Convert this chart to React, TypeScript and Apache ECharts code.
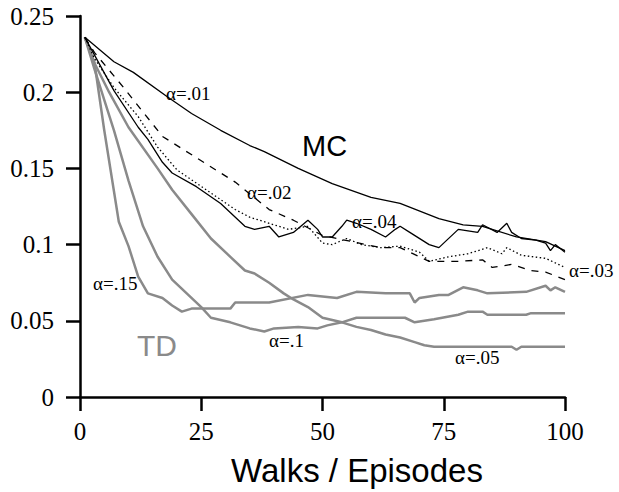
import React, { useEffect, useRef } from "react";
import * as echarts from "echarts";

type Pt = [number, number];

const xTicks = [0, 25, 50, 75, 100];
const yTicks = [0, 0.05, 0.1, 0.15, 0.2, 0.25];

const mc01: Pt[] = [[1,.236],[7,.220],[11,.213],[18,.197],[23,.186],[29,.175],[35,.165],[38,.161],[45,.150],[52,.140],[60,.131],[66,.127],[74,.117],[79,.113],[83,.112],[90,.105],[96,.102],[100,.096]];
const mc02: Pt[] = [[1,.236],[3,.226],[9,.203],[17,.171],[24,.157],[32,.141],[39,.123],[44,.116],[50,.106],[56,.102],[62,.098],[66,.098],[72,.089],[78,.089],[83,.090],[85,.085],[89,.087],[93,.083],[96,.082],[100,.077]];
const mc03: Pt[] = [[1,.236],[3,.222],[7,.203],[12,.184],[16,.164],[20,.149],[26,.136],[32,.123],[35,.118],[39,.114],[43,.110],[47,.112],[50,.101],[52,.100],[55,.104],[58,.100],[62,.098],[66,.099],[70,.095],[72,.089],[76,.092],[80,.094],[84,.098],[87,.094],[88,.098],[91,.093],[96,.091],[100,.085]];
const mc04: Pt[] = [[1,.236],[7,.201],[12,.177],[14,.169],[17,.154],[19,.147],[24,.138],[29,.127],[34,.112],[36,.110],[39,.112],[41,.105],[44,.108],[47,.116],[49,.110],[50,.105],[52,.105],[54,.112],[55,.116],[57,.114],[60,.110],[63,.105],[65,.110],[66,.112],[68,.108],[72,.100],[74,.098],[78,.110],[82,.108],[83,.113],[86,.108],[88,.114],[89,.108],[91,.104],[94,.103],[96,.101],[97,.096],[98,.100],[100,.095]];
const td15: Pt[] = [[1,.236],[3,.219],[5,.175],[7,.135],[8,.115],[10,.099],[12,.079],[14,.068],[17,.065],[19,.060],[21,.056],[23,.058],[31,.058],[32,.062],[39,.062],[47,.067],[53,.065],[57,.069],[63,.068],[68,.068],[69,.062],[70,.065],[74,.067],[76,.067],[79,.072],[82,.070],[84,.068],[92,.069],[96,.073],[97,.070],[98,.072],[100,.069]];
const td10: Pt[] = [[1,.236],[3,.215],[7,.175],[10,.142],[13,.112],[16,.092],[19,.077],[22,.068],[25,.059],[27,.052],[31,.049],[35,.045],[38,.043],[40,.045],[45,.046],[49,.045],[51,.047],[54,.049],[57,.052],[67,.052],[69,.049],[73,.051],[78,.054],[80,.056],[83,.056],[84,.054],[92,.054],[93,.055],[100,.055]];
const td05: Pt[] = [[1,.236],[3,.219],[6,.200],[10,.177],[16,.150],[19,.136],[23,.120],[27,.104],[31,.092],[34,.083],[36,.081],[39,.075],[42,.068],[44,.064],[47,.059],[50,.052],[54,.049],[57,.046],[60,.044],[63,.041],[66,.039],[69,.036],[71,.034],[73,.033],[89,.033],[90,.031],[91,.033],[100,.033]];

const alphaLabels: { text: string; x: number; y: number }[] = [
  { text: "α=.01", x: 166, y: 93 },
  { text: "α=.02", x: 247, y: 192 },
  { text: "α=.04", x: 352, y: 221 },
  { text: "α=.03", x: 569, y: 270 },
  { text: "α=.15", x: 93, y: 283 },
  { text: "α=.1", x: 269, y: 340 },
  { text: "α=.05", x: 455, y: 357 },
];

const GRAY = "#8a8a8a";
const SERIF = "Liberation Serif";
const SANS = "Liberation Sans";

export default function App() {
  const ref = useRef<HTMLDivElement>(null);
  useEffect(() => {
    if (!ref.current) return;
    const chart = echarts.init(ref.current, undefined, { renderer: "svg" });
    const line = (name: string, data: Pt[], color: string, width: number, type: any) => ({
      name,
      type: "line",
      data,
      showSymbol: false,
      symbol: "none",
      smooth: false,
      lineStyle: { color, width, type },
      z: color === GRAY ? 2 : 3,
    });
    chart.setOption({
      animation: false,
      backgroundColor: "#fff",
      grid: { left: 80, right: 54, top: 16, bottom: 95, containLabel: false, outerBoundsMode: "none" },
      xAxis: {
        type: "value",
        min: xTicks[0],
        max: xTicks[xTicks.length - 1],
        interval: 25,
        axisLine: { show: true, onZero: false, lineStyle: { color: "#000", width: 2.5 } },
        axisTick: { show: true, length: 14, lineStyle: { color: "#000", width: 2.5 } },
        axisLabel: { color: "#000", fontFamily: SERIF, fontSize: 25, margin: 22 },
        splitLine: { show: false },
      },
      yAxis: {
        type: "value",
        min: yTicks[0],
        max: yTicks[yTicks.length - 1],
        interval: 0.05,
        axisLine: { show: true, onZero: false, lineStyle: { color: "#000", width: 2.5 } },
        axisTick: { show: true, length: 14, lineStyle: { color: "#000", width: 2.5 } },
        axisLabel: { color: "#000", fontFamily: SERIF, fontSize: 25, margin: 26 },
        splitLine: { show: false },
      },
      series: [
        line("TD α=.15", td15, GRAY, 2.5, "solid"),
        line("TD α=.1", td10, GRAY, 2.5, "solid"),
        line("TD α=.05", td05, GRAY, 2.5, "solid"),
        line("MC α=.01", mc01, "#000", 1.3, "solid"),
        line("MC α=.02", mc02, "#000", 1.3, [7, 7]),
        line("MC α=.03", mc03, "#000", 1.3, [1.5, 2.5]),
        line("MC α=.04", mc04, "#000", 1.3, "solid"),
      ],
      graphic: [
        ...alphaLabels.map((l) => ({
          type: "text",
          x: l.x,
          y: l.y,
          style: { text: l.text, fill: "#000", fontSize: 19, fontFamily: SERIF, verticalAlign: "middle" },
          z: 10,
        })),
        {
          type: "text",
          x: 302,
          y: 146,
          style: { text: "MC", fill: "#000", fontSize: 29, fontFamily: SANS, verticalAlign: "middle" },
          z: 10,
        },
        {
          type: "text",
          x: 137,
          y: 345,
          style: { text: "TD", fill: GRAY, fontSize: 30, fontFamily: SANS, verticalAlign: "middle" },
          z: 10,
        },
        {
          type: "text",
          x: 357,
          y: 470,
          style: { text: "Walks / Episodes", fill: "#000", fontSize: 33, fontFamily: SANS, align: "center", verticalAlign: "middle" },
          z: 10,
        },
      ],
    });
    return () => chart.dispose();
  }, []);
  return (
    <div
      ref={ref}
      style={{ position: "fixed", left: 0, top: 0, width: 619, height: 492, background: "#fff" }}
    />
  );
}
